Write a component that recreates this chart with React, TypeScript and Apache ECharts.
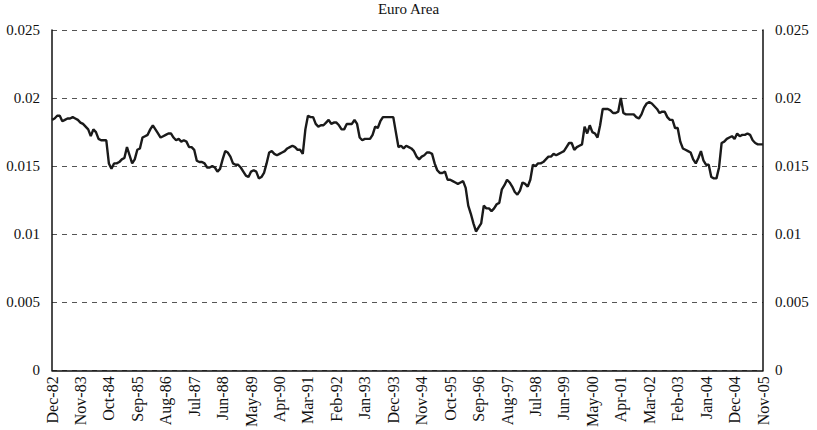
import React, { useEffect, useRef } from "react";
import * as echarts from "echarts";

const TITLE = "Euro Area";
const MONTH_NAMES = ["Jan", "Feb", "Mar", "Apr", "May", "Jun", "Jul", "Aug", "Sep", "Oct", "Nov", "Dec"];
const START_YEAR = 1982;
const START_MONTH = 11; // December (0-based)

const values1983to1987: number[] = [
  0.0184, 0.0185, 0.0187, 0.0187, 0.0183, 0.0184, 0.0185, 0.0185, 0.0186, 0.0185,
  0.0184, 0.0182, 0.0181, 0.0179, 0.0177, 0.0172, 0.0177, 0.0175, 0.0170, 0.0169,
  0.0169, 0.0169, 0.0152, 0.0148, 0.0152, 0.0152, 0.0153, 0.0155, 0.0156, 0.0164,
  0.0158, 0.0152, 0.0155, 0.0162, 0.0163, 0.0171, 0.0172, 0.0173, 0.0177, 0.0180,
  0.0177, 0.0174, 0.0171, 0.0172, 0.0173, 0.0174, 0.0174, 0.0171, 0.0169, 0.0170,
  0.0168, 0.0169, 0.0168, 0.0164, 0.0164, 0.0162,
];
const values1987to1992: number[] = [
  0.0154, 0.0153, 0.0153, 0.0152, 0.0149, 0.0149, 0.0150, 0.0149, 0.0146, 0.0148,
  0.0155, 0.0161, 0.0160, 0.0157, 0.0152, 0.0151, 0.0151, 0.0149, 0.0146, 0.0143,
  0.0142, 0.0146, 0.0147, 0.0146, 0.0141, 0.0142, 0.0145, 0.0152, 0.0160, 0.0161,
  0.0159, 0.0158, 0.0159, 0.0160, 0.0161, 0.0163, 0.0164, 0.0165, 0.0164, 0.0162,
  0.0162, 0.0159, 0.0177, 0.0187, 0.0186, 0.0186, 0.0181, 0.0179, 0.0180, 0.0180,
  0.0182, 0.0184, 0.0181, 0.0182,
];
const values1992to1996: number[] = [
  0.0182, 0.0180, 0.0177, 0.0177, 0.0181, 0.0181, 0.0181, 0.0184, 0.0181, 0.0171,
  0.0169, 0.0170, 0.0170, 0.0170, 0.0173, 0.0179, 0.0178, 0.0183, 0.0186, 0.0186,
  0.0186, 0.0186, 0.0186, 0.0175, 0.0164, 0.0165, 0.0163, 0.0165, 0.0164, 0.0163,
  0.0161, 0.0157, 0.0155, 0.0157, 0.0158, 0.0160, 0.0160, 0.0159, 0.0152, 0.0147,
  0.0145, 0.0145, 0.0146, 0.0140, 0.0140, 0.0139, 0.0138, 0.0137, 0.0138, 0.0139,
  0.0134, 0.0121, 0.0115, 0.0108,
];
const values1996to2001: number[] = [
  0.0102, 0.0105, 0.0108, 0.0121, 0.0119, 0.0119, 0.0117, 0.0119, 0.0122, 0.0123,
  0.0133, 0.0136, 0.0140, 0.0138, 0.0135, 0.0131, 0.0129, 0.0132, 0.0138, 0.0137,
  0.0135, 0.0140, 0.0151, 0.0150, 0.0152, 0.0152, 0.0153, 0.0155, 0.0157, 0.0157,
  0.0159, 0.0158, 0.0159, 0.0160, 0.0161, 0.0164, 0.0167, 0.0167, 0.0162, 0.0164,
  0.0165, 0.0166, 0.0179, 0.0174, 0.0180, 0.0175, 0.0174, 0.0171, 0.0180, 0.0192,
  0.0192, 0.0192, 0.0191, 0.0189,
];
const values2001to2005: number[] = [
  0.0189, 0.0190, 0.0200, 0.0189, 0.0188, 0.0188, 0.0188, 0.0188, 0.0186, 0.0185,
  0.0188, 0.0193, 0.0196, 0.0197, 0.0196, 0.0194, 0.0192, 0.0189, 0.0190, 0.0190,
  0.0186, 0.0184, 0.0184, 0.0178, 0.0178, 0.0168, 0.0163, 0.0162, 0.0161, 0.0160,
  0.0155, 0.0152, 0.0156, 0.0161, 0.0154, 0.0151, 0.0151, 0.0142, 0.0141, 0.0141,
  0.0149, 0.0167, 0.0168, 0.0170, 0.0171, 0.0172, 0.0170, 0.0174, 0.0172, 0.0173,
  0.0173, 0.0174, 0.0173, 0.0169, 0.0167, 0.0166, 0.0166, 0.0166,
];

const seriesValues: number[] = [
  ...values1983to1987,
  ...values1987to1992,
  ...values1992to1996,
  ...values1996to2001,
  ...values2001to2005,
];

const categories: string[] = seriesValues.map((_, i) => {
  const m = START_MONTH + i;
  const year = START_YEAR + Math.floor(m / 12);
  return MONTH_NAMES[m % 12] + "-" + String(year % 100).padStart(2, "0");
});

const Y_MIN = 0;
const Y_MAX = 0.025;
const Y_STEP = 0.005;
const FONT = "'Liberation Serif', 'DejaVu Serif', serif";

export default function App() {
  const ref = useRef<HTMLDivElement>(null);
  useEffect(() => {
    if (!ref.current) return;
    const chart = echarts.init(ref.current, undefined, { renderer: "svg" });
    const yCommon = {
      type: "value" as const,
      min: Y_MIN,
      max: Y_MAX,
      interval: Y_STEP,
      axisLine: { show: true, lineStyle: { color: "#111", width: 1.5 } },
      axisTick: { show: false },
      axisLabel: { color: "#111", fontFamily: FONT, fontSize: 15, margin: 12 },
    };
    chart.setOption({
      animation: false,
      backgroundColor: "#fff",
      title: {
        text: TITLE,
        left: "center",
        top: 1,
        padding: 0,
        textStyle: { color: "#111", fontFamily: FONT, fontSize: 15, fontWeight: "normal" },
      },
      grid: { left: 52, right: 54, top: 30, bottom: 59, containLabel: false },
      xAxis: {
        type: "category",
        data: categories,
        boundaryGap: false,
        axisLine: { show: true, lineStyle: { color: "#111", width: 1.5 } },
        axisTick: { show: false },
        axisLabel: {
          interval: 10,
          rotate: 90,
          color: "#111",
          fontFamily: FONT,
          fontSize: 16,
          margin: 6,
        },
        splitLine: { show: false },
      },
      yAxis: [
        {
          ...yCommon,
          position: "left",
          splitLine: { show: true, lineStyle: { color: "#555", type: [5, 5], width: 1 } },
        },
        {
          ...yCommon,
          position: "right",
          splitLine: { show: false },
        },
      ],
      series: [
        {
          type: "line",
          data: seriesValues,
          yAxisIndex: 0,
          showSymbol: false,
          symbol: "none",
          lineStyle: { color: "#1a1a1a", width: 2.4 },
        },
      ],
    });
    return () => chart.dispose();
  }, []);
  return (
    <div
      ref={ref}
      style={{ position: "fixed", left: 0, top: 0, width: 817, height: 430, background: "#fff" }}
    />
  );
}
